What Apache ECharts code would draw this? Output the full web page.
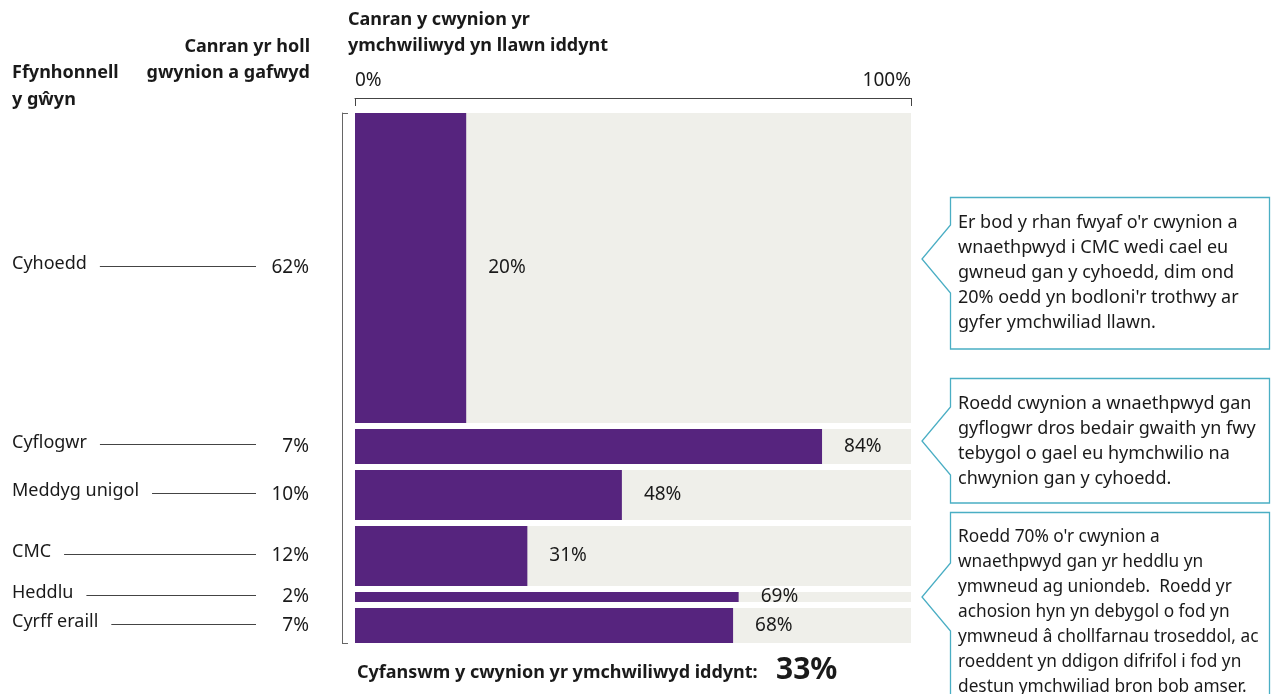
<!DOCTYPE html>
<html>
<head>
<meta charset="utf-8">
<script src="https://cdn.jsdelivr.net/npm/echarts@6/dist/echarts.min.js"></script>
<style>
html,body{margin:0;padding:0;background:#fff;}
#chart{width:1271px;height:694px;}
</style>
</head>
<body>
<div id="chart"></div>
<script>
// ---- data ----
const categories = ['Cyhoedd', 'Cyflogwr', 'Meddyg unigol', 'CMC', 'Heddlu', 'Cyrff eraill'];
const shareOfComplaints = [62, 7, 10, 12, 2, 7];          // % of all complaints received
const investigatedPct = [20, 84, 48, 31, 69, 68];         // % fully investigated
const xTickLabels = ['0%', '100%'];
const overallInvestigated = '33%';
const callouts = [
  "Er bod y rhan fwyaf o'r cwynion a\nwnaethpwyd i CMC wedi cael eu\ngwneud gan y cyhoedd, dim ond\n20% oedd yn bodloni'r trothwy ar\ngyfer ymchwiliad llawn.",
  "Roedd cwynion a wnaethpwyd gan\ngyflogwr dros bedair gwaith yn fwy\ntebygol o gael eu hymchwilio na\nchwynion gan y cyhoedd.",
  "Roedd 70% o'r cwynion a\nwnaethpwyd gan yr heddlu yn\nymwneud ag uniondeb.  Roedd yr\nachosion hyn yn debygol o fod yn\nymwneud â chollfarnau troseddol, ac\nroeddent yn ddigon difrifol i fod yn\ndestun ymchwiliad bron bob amser."
];

// ---- layout constants ----
const GAP = 1.2;
const FONT = "'Noto Sans', sans-serif";
const TXT = '#1a1a1a';
const PURPLE = '#56247e';
const BG = '#efefea';
const TEAL = '#4aaec4';
const FS = 18;    // text size
const FSN = 19;   // number size

// build rows [start, end, pct, share, index]
const rows = [];
let acc = 0;
shareOfComplaints.forEach((s, i) => {
  rows.push([acc, acc + s, investigatedPct[i], s, i]);
  acc += s + GAP;
});
const yMax = acc - GAP;

const chart = echarts.init(document.getElementById('chart'), null, {renderer: 'canvas'});

function callout(top, bottom, tipY, text, fs) {
  const L = 950.5, R = 1269.5, tipX = 922;
  return {
    type: 'group',
    children: [
      {
        type: 'polygon',
        shape: {points: [[L, top + 0.5], [R, top + 0.5], [R, bottom], [L, bottom], [L, tipY + 34], [tipX, tipY], [L, tipY - 34]]},
        style: {fill: '#fff', stroke: TEAL, lineWidth: 1.3}
      },
      {
        type: 'text',
        x: 958, y: top + 13,
        style: {text: text, font: fs + 'px ' + FONT, fill: TXT, lineHeight: 25, textVerticalAlign: 'top'}
      }
    ]
  };
}

const option = {
  backgroundColor: '#fff',
  animation: false,
  grid: {left: 355, right: 360, top: 113, bottom: 51},
  xAxis: {
    type: 'value', min: 0, max: 100, interval: 100, position: 'top', offset: 15,
    axisLine: {show: true, onZero: false, lineStyle: {color: '#444', width: 1}},
    axisTick: {show: true, inside: true, length: 8, lineStyle: {color: '#444'}},
    splitLine: {show: false},
    axisLabel: {
      show: true, margin: 8, color: TXT, fontFamily: FONT, fontSize: FSN,
      alignMinLabel: 'left', alignMaxLabel: 'right',
      formatter: v => (v === 0 ? xTickLabels[0] : xTickLabels[1])
    }
  },
  yAxis: {
    type: 'value', inverse: true, min: 0, max: yMax, interval: yMax, offset: 13,
    axisLine: {show: true, onZero: false, lineStyle: {color: '#666', width: 1}},
    axisTick: {show: true, inside: true, length: 6, lineStyle: {color: '#666'}},
    axisLabel: {show: false},
    splitLine: {show: false}
  },
  series: [{
    type: 'custom',
    data: rows,
    encode: {x: 2, y: [0, 1]},
    renderItem: function (params, api) {
      const s = api.value(0), e = api.value(1), pct = api.value(2), share = api.value(3);
      const idx = api.value(4);
      const p0 = api.coord([0, s]);
      const p1 = api.coord([100, e]);
      const pv = api.coord([pct, e]);
      const h = p1[1] - p0[1];
      const cy = p0[1] + h / 2;
      const ly = Math.round(cy) - 1.5;
      return {
        type: 'group',
        children: [
          {type: 'rect', shape: {x: p0[0], y: p0[1], width: p1[0] - p0[0], height: h}, style: {fill: BG}},
          {type: 'rect', shape: {x: p0[0], y: p0[1], width: pv[0] - p0[0], height: h}, style: {fill: PURPLE}},
          {type: 'text', x: pv[0] + 22, y: cy, style: {text: pct + '%', font: FSN + 'px ' + FONT, fill: TXT, textVerticalAlign: 'middle'}},
          // left side: leader line, name, share
          {type: 'line', shape: {x1: 14, y1: ly, x2: 256, y2: ly}, style: {stroke: '#444', lineWidth: 1}, z2: 1},
          {type: 'text', x: 12, y: cy - 4, z2: 5,
            style: {text: categories[idx], font: FS + 'px ' + FONT, fill: TXT, textVerticalAlign: 'middle',
              backgroundColor: '#fff', padding: [0, 13, 0, 0]}},
          {type: 'text', x: 309, y: cy, z2: 5,
            style: {text: share + '%', font: FSN + 'px ' + FONT, fill: TXT, textAlign: 'right', textVerticalAlign: 'middle'}}
        ]
      };
    }
  }],
  graphic: [
    {type: 'text', x: 12, y: 86, style: {text: 'Ffynhonnell\ny gŵyn', font: 'bold ' + FS + 'px ' + FONT, fill: TXT, lineHeight: 27, textVerticalAlign: 'middle'}},
    {type: 'text', x: 310, y: 60, style: {text: 'Canran yr holl\ngwynion a gafwyd', font: 'bold ' + FS + 'px ' + FONT, fill: TXT, lineHeight: 26, textAlign: 'right', textVerticalAlign: 'middle'}},
    {type: 'text', x: 348, y: 33, style: {text: 'Canran y cwynion yr\nymchwiliwyd yn llawn iddynt', font: 'bold ' + FS + 'px ' + FONT, fill: TXT, lineHeight: 26, textVerticalAlign: 'middle'}},
    {type: 'text', x: 357, y: 673, style: {text: 'Cyfanswm y cwynion yr ymchwiliwyd iddynt:', font: 'bold ' + FS + 'px ' + FONT, fill: TXT, textVerticalAlign: 'middle'}},
    {type: 'text', x: 776, y: 670, style: {text: overallInvestigated, font: 'bold 30px ' + FONT, fill: TXT, textVerticalAlign: 'middle'}},
    callout(197, 349, 259, callouts[0], FS),
    callout(378, 503, 441, callouts[1], FS),
    callout(512, 720, 597, callouts[2], 17.3)
  ]
};
chart.setOption(option);
</script>
</body>
</html>
